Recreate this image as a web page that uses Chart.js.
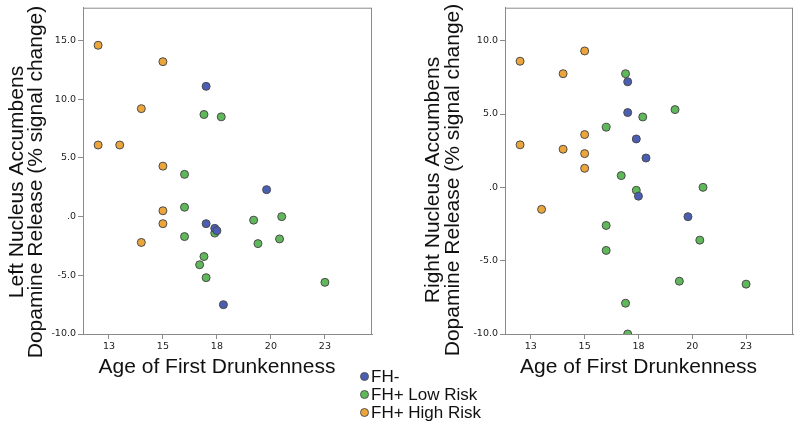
<!DOCTYPE html>
<html>
<head>
<meta charset="utf-8">
<script src="https://cdn.jsdelivr.net/npm/chart.js@4"></script>
<style>
  body { margin: 0; background: #fff; width: 800px; height: 428px; position: relative; overflow: hidden; }
  #leftWrap { position: absolute; left: 0; top: 0; width: 395px; height: 390px; }
  #rightWrap { position: absolute; left: 410px; top: 0; width: 390px; height: 390px; }
  #legend { position: absolute; left: 360px; top: 368px; font-family: "Liberation Sans", Arial, sans-serif; font-size: 17px; color: #111; }
  #legend div { height: 18px; line-height: 18px; white-space: nowrap; }
  #legend span { display: inline-block; width: 7px; height: 7px; border-radius: 50%; border: 1px solid #555; margin-right: 2px; vertical-align: 1px; }
</style>
</head>
<body>
<div id="leftWrap"><canvas id="leftChart"></canvas></div>
<div id="rightWrap"><canvas id="rightChart"></canvas></div>
<div id="legend"></div>
<script>
// groups
const groupNames = ['FH-', 'FH+ Low Risk', 'FH+ High Risk'];
const groupColors = ['#4a5fb3', '#5fb85a', '#eba53a'];

// axis ticks
const xTicks = [12.5, 15, 17.5, 20, 22.5];
const xTickLabels = ['13', '15', '18', '20', '23'];
const yTicksLeft = [-10, -5, 0, 5, 10, 15];
const yTicksRight = [-10, -5, 0, 5, 10];
const yTickLabelsLeft = ['-10.0', '-5.0', '.0', '5.0', '10.0', '15.0'];
const yTickLabelsRight = ['-10.0', '-5.0', '.0', '5.0', '10.0'];

// left nucleus accumbens
const leftAgeFHneg = [17.0, 19.8, 17.0, 17.4, 17.5, 17.8];
const leftValFHneg = [11.1, 2.3, -0.6, -1.0, -1.2, -7.5];
const leftAgeLow = [16.9, 17.7, 16.0, 16.0, 16.0, 17.4, 19.2, 20.5, 19.4, 20.4, 16.9, 16.7, 17.0, 22.5];
const leftValLow = [8.7, 8.5, 3.6, 0.8, -1.7, -1.4, -0.3, 0.0, -2.3, -1.9, -3.4, -4.1, -5.2, -5.6];
const leftAgeHigh = [12.0, 15.0, 14.0, 12.0, 13.0, 15.0, 15.0, 15.0, 14.0];
const leftValHigh = [14.6, 13.2, 9.2, 6.1, 6.1, 4.3, 0.5, -0.6, -2.2];

// right nucleus accumbens
const rightAgeFHneg = [17.0, 17.0, 17.4, 17.85, 17.5, 19.8];
const rightValFHneg = [7.2, 5.1, 3.3, 2.0, -0.6, -2.0];
const rightAgeLow = [16.9, 17.7, 19.2, 16.0, 16.7, 17.4, 20.5, 16.0, 16.0, 20.35, 19.4, 22.5, 16.9, 17.0];
const rightValLow = [7.75, 4.8, 5.3, 4.1, 0.8, -0.2, 0.0, -2.6, -4.3, -3.6, -6.4, -6.6, -7.9, -10.0];
const rightAgeHigh = [12.0, 15.0, 14.0, 15.0, 12.0, 14.0, 15.0, 15.0, 13.0];
const rightValHigh = [8.6, 9.3, 7.75, 3.6, 2.9, 2.6, 2.3, 1.3, -1.5];

const xMin = 11.3, xMax = 24.68;
const yMinLeft = -10, yMaxLeft = 17.8;
const yMinRight = -10, yMaxRight = 12.25;

function toPoints(xs, ys) {
    return xs.map((x, i) => ({ x: x, y: ys[i] }));
}

function makeDataset(i, xs, ys) {
    return {
        label: groupNames[i],
        data: toPoints(xs, ys),
        backgroundColor: groupColors[i],
        borderColor: '#4a4a4a',
        borderWidth: 1,
        pointRadius: 4,
        pointHoverRadius: 4
    };
}

// box round the plot area
const frame = {
    id: 'frame',
    afterDraw(chart) {
        const a = chart.chartArea;
        const ctx = chart.ctx;
        ctx.save();
        ctx.strokeStyle = '#8a8a8a';
        ctx.lineWidth = 1;
        ctx.strokeRect(a.left + 0.5, a.top + 0.5, a.right - a.left - 1, a.bottom - a.top);
        ctx.restore();
    }
};

// axis titles, placed like the SPSS output (a bit off the plot centre)
const axisTitles = {
    id: 'axisTitles',
    afterDraw(chart, args, opts) {
        const ctx = chart.ctx;
        const a = chart.chartArea;
        ctx.save();
        ctx.fillStyle = '#111';
        ctx.font = '21px "Liberation Sans", Arial, sans-serif';
        ctx.textAlign = 'center';
        ctx.textBaseline = 'middle';
        ctx.fillText(opts.xText, (a.left + a.right) / 2 + opts.xShift, opts.xY);
        opts.yLines.forEach((line, i) => {
            ctx.save();
            ctx.translate(opts.yX[i], opts.yCenter);
            ctx.rotate(-Math.PI / 2);
            ctx.fillText(line, 0, 0);
            ctx.restore();
        });
        ctx.restore();
    }
};

const tickFont = { family: '"DejaVu Sans", Verdana, sans-serif', size: 9.5 };

function makeChart(canvasId, datasets, yMin, yMax, yTicks, yLabels, yTitle, axisWidth, yX, yCenter, padRight) {
    return new Chart(document.getElementById(canvasId), {
        type: 'scatter',
        data: { datasets: datasets },
        plugins: [frame, axisTitles],
        options: {
            responsive: true,
            maintainAspectRatio: false,
            animation: false,
            layout: { padding: { left: 0, top: 7, right: padRight, bottom: 0 } },
            plugins: {
                legend: { display: false },
                tooltip: { enabled: false },
                axisTitles: {
                    xText: 'Age of First Drunkenness',
                    xShift: -10.5,
                    xY: 367,
                    yLines: yTitle,
                    yX: yX,
                    yCenter: yCenter
                }
            },
            scales: {
                x: {
                    type: 'linear',
                    min: xMin,
                    max: xMax,
                    afterBuildTicks: scale => { scale.ticks = xTicks.map(v => ({ value: v })); },
                    afterFit: scale => { scale.height = 56; },
                    ticks: {
                        font: tickFont,
                        color: '#222',
                        padding: 2,
                        maxRotation: 0,
                        callback: (v) => xTickLabels[xTicks.indexOf(v)]
                    },
                    grid: { drawOnChartArea: false, drawTicks: true, tickLength: 5, color: '#8a8a8a' },
                    border: { display: true, color: '#8a8a8a' }
                },
                y: {
                    type: 'linear',
                    min: yMin,
                    max: yMax,
                    afterBuildTicks: scale => { scale.ticks = yTicks.map(v => ({ value: v })); },
                    afterFit: scale => { scale.width = axisWidth; },
                    ticks: {
                        font: tickFont,
                        color: '#222',
                        padding: 2,
                        callback: (v) => yLabels[yTicks.indexOf(v)]
                    },
                    grid: { drawOnChartArea: false, drawTicks: true, tickLength: 5, color: '#8a8a8a' },
                    border: { display: true, color: '#8a8a8a' }
                }
            }
        }
    });
}

makeChart('leftChart', [
    makeDataset(0, leftAgeFHneg, leftValFHneg),
    makeDataset(1, leftAgeLow, leftValLow),
    makeDataset(2, leftAgeHigh, leftValHigh)
], yMinLeft, yMaxLeft, yTicksLeft, yTickLabelsLeft,
   ['Left Nucleus Accumbens', 'Dopamine Release (% signal change)'], 83, [17, 36.5], 182, 23);

makeChart('rightChart', [
    makeDataset(0, rightAgeFHneg, rightValFHneg),
    makeDataset(1, rightAgeLow, rightValLow),
    makeDataset(2, rightAgeHigh, rightValHigh)
], yMinRight, yMaxRight, yTicksRight, yTickLabelsRight,
   ['Right Nucleus Accumbens', 'Dopamine Release (% signal change)'], 95, [23, 43.5], 180, 7);

// legend shared by both plots
const legend = document.getElementById('legend');
groupNames.forEach((name, i) => {
    const row = document.createElement('div');
    const dot = document.createElement('span');
    dot.style.background = groupColors[i];
    row.appendChild(dot);
    row.appendChild(document.createTextNode(name));
    legend.appendChild(row);
});
</script>
</body>
</html>
